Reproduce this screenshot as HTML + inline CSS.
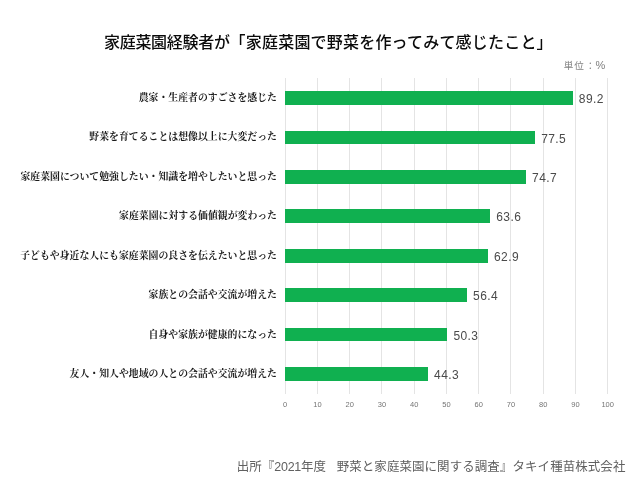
<!DOCTYPE html>
<html lang="ja">
<head>
<meta charset="utf-8">
<title>家庭菜園で野菜を作ってみて感じたこと</title>
<style>
html,body{margin:0;padding:0;background:#fff;}
body{width:640px;height:480px;position:relative;overflow:hidden;font-family:"Liberation Sans","Noto Sans CJK JP",sans-serif;}
#chart{position:absolute;left:0;top:0;width:640px;height:480px;will-change:transform;opacity:0.999;}
.abs{position:absolute;white-space:nowrap;}
.title{left:104px;top:31px;font-size:16px;line-height:24px;color:#0a0a0a;letter-spacing:0;font-weight:500;}
.title .a{letter-spacing:-0.3px;}
.title .b{letter-spacing:0.2px;}
.unit{left:563.8px;top:57.7px;font-size:9.6px;line-height:14px;color:#808080;letter-spacing:0.8px;}
.unit .c{margin-left:1px;}
.unit .p{font-size:11px;margin-left:-0.6px;letter-spacing:0;}
.grid{position:absolute;width:1px;background:#e4e4e4;}
.bar{position:absolute;background:#10b050;}
.lab{position:absolute;white-space:nowrap;right:363px;text-align:right;font-family:"Liberation Serif","Noto Serif CJK SC",serif;font-weight:700;font-size:9.9px;line-height:14px;color:#1a1a1a;}
.val{position:absolute;white-space:nowrap;font-size:12px;line-height:14px;color:#4a4a4a;letter-spacing:0.4px;}
.tick{position:absolute;white-space:nowrap;font-size:7.5px;line-height:10px;color:#747474;width:30px;text-align:center;}
.foot{left:236.85px;top:458.2px;font-size:12.475px;line-height:18px;color:#606060;font-weight:400;}
.foot .n{letter-spacing:-0.24px;}
.foot .r{margin-left:-1.9px;letter-spacing:0.088px;}
</style>
</head>
<body>
<div id="chart">
<div class="abs title"><span class="a">家庭菜園経験者が</span><span class="b">「家庭菜園で野菜を作ってみて感じたこと」</span></div>
<div class="abs unit">単位<span class="c">：</span><span class="p">%</span></div>
<div class="grid" style="left:284.70px;top:78.0px;height:315.75px"></div>
<div class="grid" style="left:316.95px;top:78.0px;height:315.75px"></div>
<div class="grid" style="left:349.20px;top:78.0px;height:315.75px"></div>
<div class="grid" style="left:381.45px;top:78.0px;height:315.75px"></div>
<div class="grid" style="left:413.70px;top:78.0px;height:315.75px"></div>
<div class="grid" style="left:445.95px;top:78.0px;height:315.75px"></div>
<div class="grid" style="left:478.20px;top:78.0px;height:315.75px"></div>
<div class="grid" style="left:510.45px;top:78.0px;height:315.75px"></div>
<div class="grid" style="left:542.70px;top:78.0px;height:315.75px"></div>
<div class="grid" style="left:574.95px;top:78.0px;height:315.75px"></div>
<div class="grid" style="left:607.20px;top:78.0px;height:315.75px"></div>
<div class="lab" style="top:91.05px">農家・生産者のすごさを感じた</div>
<div class="bar" style="left:285.20px;top:91.20px;width:287.67px;height:13.7px"></div>
<div class="val" style="left:578.87px;top:92.15px">89.2</div>
<div class="lab" style="top:130.48px">野菜を育てることは想像以上に大変だった</div>
<div class="bar" style="left:285.20px;top:130.63px;width:249.94px;height:13.7px"></div>
<div class="val" style="left:541.14px;top:131.58px">77.5</div>
<div class="lab" style="top:169.91px">家庭菜園について勉強したい・知識を増やしたいと思った</div>
<div class="bar" style="left:285.20px;top:170.06px;width:240.91px;height:13.7px"></div>
<div class="val" style="left:532.11px;top:171.01px">74.7</div>
<div class="lab" style="top:209.34px">家庭菜園に対する価値観が変わった</div>
<div class="bar" style="left:285.20px;top:209.49px;width:205.11px;height:13.7px"></div>
<div class="val" style="left:496.31px;top:210.44px">63.6</div>
<div class="lab" style="top:248.77px">子どもや身近な人にも家庭菜園の良さを伝えたいと思った</div>
<div class="bar" style="left:285.20px;top:248.92px;width:202.85px;height:13.7px"></div>
<div class="val" style="left:494.05px;top:249.87px">62.9</div>
<div class="lab" style="top:288.20px">家族との会話や交流が増えた</div>
<div class="bar" style="left:285.20px;top:288.35px;width:181.89px;height:13.7px"></div>
<div class="val" style="left:473.09px;top:289.30px">56.4</div>
<div class="lab" style="top:327.63px">自身や家族が健康的になった</div>
<div class="bar" style="left:285.20px;top:327.78px;width:162.22px;height:13.7px"></div>
<div class="val" style="left:453.42px;top:328.73px">50.3</div>
<div class="lab" style="top:367.06px">友人・知人や地域の人との会話や交流が増えた</div>
<div class="bar" style="left:285.20px;top:367.21px;width:142.87px;height:13.7px"></div>
<div class="val" style="left:434.07px;top:368.16px">44.3</div>
<div class="tick" style="left:270.20px;top:399.6px">0</div>
<div class="tick" style="left:302.45px;top:399.6px">10</div>
<div class="tick" style="left:334.70px;top:399.6px">20</div>
<div class="tick" style="left:366.95px;top:399.6px">30</div>
<div class="tick" style="left:399.20px;top:399.6px">40</div>
<div class="tick" style="left:431.45px;top:399.6px">50</div>
<div class="tick" style="left:463.70px;top:399.6px">60</div>
<div class="tick" style="left:495.95px;top:399.6px">70</div>
<div class="tick" style="left:528.20px;top:399.6px">80</div>
<div class="tick" style="left:560.45px;top:399.6px">90</div>
<div class="tick" style="left:592.70px;top:399.6px">100</div>
<div class="abs foot">出所『<span class="n">2021</span>年度<span class="r">　野菜と家庭菜園に関する調査』タキイ種苗株式会社</span></div>
</div>
</body>
</html>
